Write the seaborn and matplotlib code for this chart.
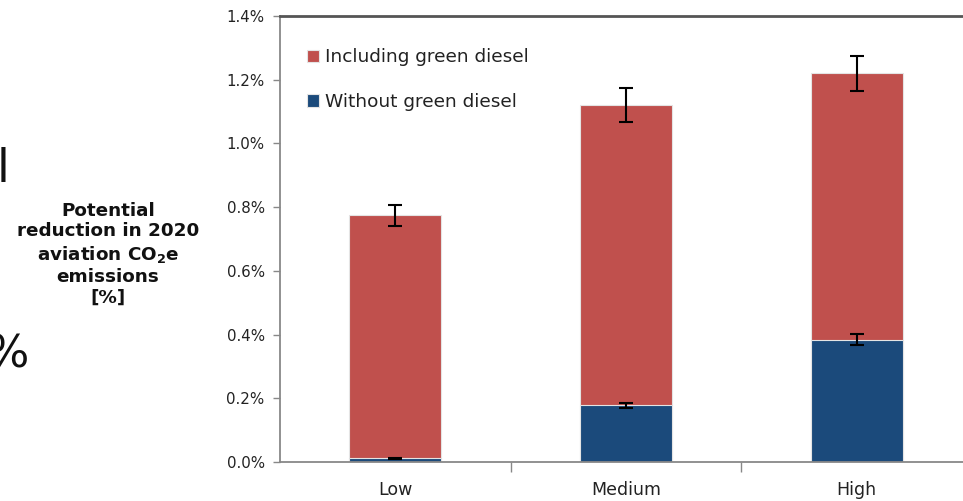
import matplotlib
matplotlib.use("Agg")
import matplotlib.pyplot as plt
import seaborn as sns
import pandas as pd
from matplotlib.ticker import FuncFormatter

# chart values (percent reduction in 2020 aviation CO2e emissions)
scenarios = ["Low", "Medium", "High"]
including_green_diesel = [0.775, 1.12, 1.22]
including_err = [0.033, 0.053, 0.056]
without_green_diesel = [0.012, 0.178, 0.384]
without_err = [0.002, 0.008, 0.017]

RED = "#C0504D"
BLUE = "#1B4A7B"

sns.set_style("white")
plt.rcParams["font.family"] = ["DejaVu Sans"]

df = pd.DataFrame({
    "scenario": scenarios,
    "including": including_green_diesel,
    "without": without_green_diesel,
})

fig = plt.figure(figsize=(9.63, 5.01), dpi=100)
# axes run a bit past the right edge, as in the reference
ax = fig.add_axes([280 / 963, 39 / 501, 692 / 963, 446 / 501])

sns.barplot(data=df, x="scenario", y="including", order=scenarios, color=RED,
            saturation=1, width=0.4, edgecolor="#e4e4e4", linewidth=0.8,
            label="Including green diesel", ax=ax)
sns.barplot(data=df, x="scenario", y="without", order=scenarios, color=BLUE,
            saturation=1, width=0.4, edgecolor="#e4e4e4", linewidth=0.8,
            label="Without green diesel", ax=ax)

pos = range(len(scenarios))
ax.errorbar(pos, including_green_diesel, yerr=including_err, fmt="none",
            ecolor="black", elinewidth=1.5, capsize=4.7, capthick=1.5, zorder=5)
ax.errorbar(pos, without_green_diesel, yerr=without_err, fmt="none",
            ecolor="black", elinewidth=1.5, capsize=4.7, capthick=1.5, zorder=5)

ax.set_xlim(-0.5, 2.5)
ax.set_ylim(0, 1.4)
ax.set_yticks([0, 0.2, 0.4, 0.6, 0.8, 1.0, 1.2, 1.4])
ax.yaxis.set_major_formatter(FuncFormatter(lambda v, _: f"{v:.1f}%"))
ax.set_xticks([0.5, 1.5], minor=True)

ax.tick_params(axis="y", which="major", left=True, length=5, width=1,
               color="#888888", labelsize=10.8, labelcolor="#222222", pad=6)
ax.tick_params(axis="x", which="major", bottom=False, labelsize=12.5,
               labelcolor="#222222", pad=10)
ax.tick_params(axis="x", which="minor", bottom=True, length=7, width=1,
               color="#888888")

ax.set_xlabel("")
ax.set_ylabel("Potential\nreduction in 2020\naviation CO$_\\mathbf{2}$e\nemissions\n[%]",
              rotation=0, fontsize=13.2, fontweight="bold", ha="center",
              va="center", linespacing=1.2, color="#111111")
ax.yaxis.set_label_coords((108 - 280) / 692, (462 - 254) / 446)

for side in ["left", "bottom"]:
    ax.spines[side].set_color("#888888")
    ax.spines[side].set_linewidth(1.3)
ax.spines["top"].set_color("#555555")
ax.spines["top"].set_linewidth(2)
ax.spines["right"].set_visible(False)

leg = ax.legend(loc="upper left", bbox_to_anchor=(0.015, 0.965), frameon=False,
                fontsize=13.3, handlelength=0.65, handleheight=0.65,
                handletextpad=0.35, labelspacing=1.45)
for t in leg.get_texts():
    t.set_color("#222222")

# cropped fragments of neighbouring text at the left edge
fig.text(-0.004, 1 - 170 / 501, "l", fontsize=33, va="center", ha="left",
         color="#111111")
fig.text(-0.014, 1 - 355 / 501, "%", fontsize=32, va="center", ha="left",
         color="#111111")

fig.savefig("out.png", dpi=100)
